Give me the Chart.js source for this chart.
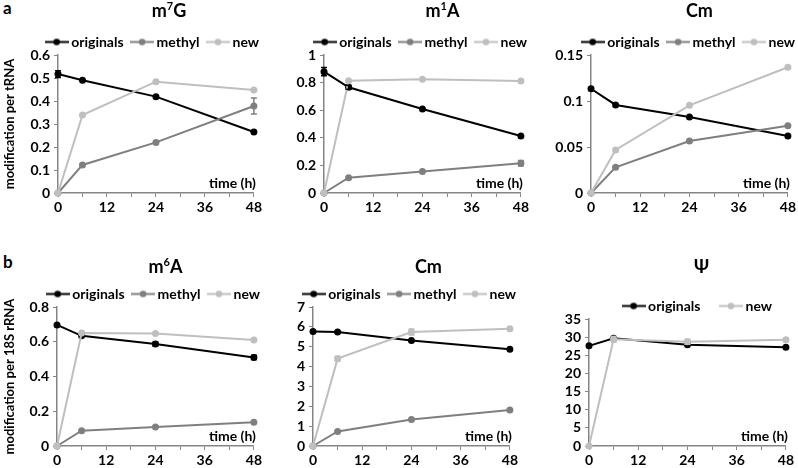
<!DOCTYPE html>
<html>
<head>
<meta charset="utf-8">
<script src="https://cdn.jsdelivr.net/npm/chart.js@4.4.0/dist/chart.umd.min.js"></script>
<style>
  body { margin: 0; background: #fff; }
  #wrap { position: relative; width: 798px; height: 468px; overflow: hidden; }
  canvas { position: absolute; }
  .tag { position: absolute; font: bold 17px Lato, sans-serif; line-height: 1; }
</style>
</head>
<body>
<div id="wrap">
  <div class="tag" style="left:3px;top:-1px">a</div>
  <div class="tag" style="left:3px;top:253px">b</div>
  <canvas id="c0"></canvas>
  <canvas id="c1"></canvas>
  <canvas id="c2"></canvas>
  <canvas id="c3"></canvas>
  <canvas id="c4"></canvas>
  <canvas id="c5"></canvas>
</div>
<script>
// time points (h) and axis ticks
const times = [0, 6, 24, 48];
const xTicks = [0, 12, 24, 36, 48];
const xTickMarks = [0, 6, 12, 18, 24, 30, 36, 42, 48];

// a: per tRNA
const m7gOriginals = [0.517, 0.490, 0.419, 0.265];
const m7gMethyl = [0, 0.122, 0.220, 0.378];
const m7gNew = [0, 0.339, 0.484, 0.448];
const m7gOriginalsErr = [0.015, 0, 0, 0];
const m7gMethylErr = [0, 0, 0, 0.035];
const m7gTicks = [0, 0.1, 0.2, 0.3, 0.4, 0.5, 0.6];

const m1aOriginals = [0.879, 0.766, 0.609, 0.413];
const m1aMethyl = [0, 0.111, 0.155, 0.215];
const m1aNew = [0, 0.814, 0.824, 0.812];
const m1aOriginalsErr = [0.03, 0.015, 0, 0];
const m1aMethylErr = [0, 0, 0, 0.02];
const m1aTicks = [0, 0.2, 0.4, 0.6, 0.8, 1];

const cmTOriginals = [0.1133, 0.0957, 0.0827, 0.0619];
const cmTMethyl = [0, 0.028, 0.0565, 0.073];
const cmTNew = [0, 0.0468, 0.0953, 0.1367];
const cmTTicks = [0, 0.05, 0.1, 0.15];

// b: per 18S rRNA
const m6aOriginals = [0.697, 0.634, 0.587, 0.510];
const m6aMethyl = [0, 0.088, 0.109, 0.137];
const m6aNew = [0, 0.650, 0.648, 0.610];
const m6aOriginalsErr = [0, 0, 0.012, 0.012];
const m6aTicks = [0, 0.2, 0.4, 0.6, 0.8];

const cmROriginals = [5.77, 5.74, 5.31, 4.87];
const cmRMethyl = [0, 0.73, 1.33, 1.81];
const cmRNew = [0, 4.40, 5.74, 5.91];
const cmRNewErr = [0, 0.12, 0.15, 0];
const cmRTicks = [0, 1, 2, 3, 4, 5, 6, 7];

const psiOriginals = [27.6, 29.7, 27.9, 27.2];
const psiNew = [0, 29.4, 28.75, 29.3];
const psiNewErr = [0, 0.8, 0.7, 0];
const psiTicks = [0, 5, 10, 15, 20, 25, 30, 35];

const colorOf = { originals: '#000000', methyl: '#7f7f7f', new: '#bfbfbf' };
const axisColor = '#858585';
const FONT = 'Lato, "Open Sans", sans-serif';

const panels = [
  { el: 'c0', left: 0, top: 0, w: 264, h: 215, yw: 58, pt: 20, titleY: 17, titleDx: 13,
    title: ['m', '7', 'G'], yTitle: 'modification per tRNA', yTicks: m7gTicks, pad: 11, nx: 14,
    series: [['originals', m7gOriginals, m7gOriginalsErr], ['methyl', m7gMethyl, m7gMethylErr], ['new', m7gNew, null]] },
  { el: 'c1', left: 276, top: 0, w: 255, h: 215, yw: 48, pt: 20, titleY: 17, titleDx: 20,
    title: ['m', '1', 'A'], yTitle: '', yTicks: m1aTicks, pad: 11, nx: 15,
    series: [['originals', m1aOriginals, m1aOriginalsErr], ['methyl', m1aMethyl, m1aMethylErr], ['new', m1aNew, null]] },
  { el: 'c2', left: 538, top: 0, w: 260, h: 215, yw: 53, pt: 20, titleY: 17, titleDx: 10,
    title: ['Cm', '', ''], yTitle: '', yTicks: cmTTicks, pad: 11, nx: 16,
    series: [['originals', cmTOriginals, null], ['methyl', cmTMethyl, null], ['new', cmTNew, null]] },
  { el: 'c3', left: 0, top: 240, w: 264, h: 228, yw: 57, pt: 32, titleY: 33, titleDx: 10,
    title: ['m', '6', 'A'], yTitle: 'modification per 18S rRNA', yTicks: m6aTicks, pad: 11, nx: 15,
    series: [['originals', m6aOriginals, m6aOriginalsErr], ['methyl', m6aMethyl, null], ['new', m6aNew, null]] },
  { el: 'c4', left: 270, top: 240, w: 250, h: 228, yw: 43, pt: 32, titleY: 33, titleDx: 17,
    title: ['Cm', '', ''], yTitle: '', yTicks: cmRTicks, pad: 11, nx: 15,
    series: [['originals', cmROriginals, null], ['methyl', cmRMethyl, null], ['new', cmRNew, cmRNewErr]] },
  { el: 'c5', left: 530, top: 240, w: 266, h: 228, yw: 59, pt: 32, titleY: 33, titleDx: 14,
    title: ['\u03A8', '', ''], yTitle: '', yTicks: psiTicks, pad: 23, nx: 7,
    series: [['originals', psiOriginals, null], ['new', psiNew, psiNewErr]] }
];

function legendIcon(color) {
  const c = document.createElement('canvas');
  c.width = 24; c.height = 9;
  const g = c.getContext('2d');
  g.strokeStyle = color; g.lineWidth = 2;
  g.beginPath(); g.moveTo(0, 4.5); g.lineTo(24, 4.5); g.stroke();
  g.fillStyle = color;
  g.beginPath(); g.arc(12, 4.5, 3.3, 0, Math.PI * 2); g.fill();
  return c;
}

// shift the legend after layout so it sits where the figure has it
const nudgeLegend = {
  id: 'nudgeLegend',
  afterLayout(chart, args, o) {
    const lg = chart.legend;
    lg.left += o.x; lg.right += o.x;
    lg.top += o.y; lg.bottom += o.y;
  }
};

// panel title (with superscript), "time (h)" label
const panelText = {
  id: 'panelText',
  afterDraw(chart, args, o) {
    const { ctx, chartArea: a } = chart;
    const [pre, sup, post] = o.title;
    ctx.save();
    ctx.fillStyle = '#000';
    ctx.textBaseline = 'alphabetic';
    ctx.textAlign = 'left';
    const big = 'bold 18px ' + FONT, small = 'bold 11px ' + FONT;
    ctx.font = big;
    const w1 = ctx.measureText(pre).width, w3 = ctx.measureText(post).width;
    ctx.font = small;
    const w2 = ctx.measureText(sup).width;
    let x = (a.left + a.right) / 2 + o.dx - (w1 + w2 + w3) / 2;
    ctx.font = big; ctx.fillText(pre, x, o.y); x += w1;
    ctx.font = small; ctx.fillText(sup, x, o.y - 7); x += w2;
    ctx.font = big; ctx.fillText(post, x, o.y);
    ctx.font = 'bold 14px ' + FONT;
    ctx.textAlign = 'right';
    ctx.fillText('time (h)', a.right + 2, a.bottom - 5);
    ctx.restore();
  }
};

const errorBars = {
  id: 'errorBars',
  afterDatasetsDraw(chart) {
    const { ctx } = chart;
    const ys = chart.scales.y;
    chart.data.datasets.forEach((ds, i) => {
      if (!ds.errors) return;
      const meta = chart.getDatasetMeta(i);
      ds.errors.forEach((e, j) => {
        if (!e) return;
        const x = meta.data[j].x;
        const y1 = ys.getPixelForValue(ds.data[j].y + e);
        const y2 = ys.getPixelForValue(ds.data[j].y - e);
        ctx.save();
        ctx.strokeStyle = ds.borderColor; ctx.lineWidth = 1.5;
        ctx.beginPath();
        ctx.moveTo(x, y1); ctx.lineTo(x, y2);
        ctx.moveTo(x - 3, y1); ctx.lineTo(x + 3, y1);
        ctx.moveTo(x - 3, y2); ctx.lineTo(x + 3, y2);
        ctx.stroke();
        ctx.restore();
      });
    });
  }
};

panels.forEach(p => {
  const cv = document.getElementById(p.el);
  cv.width = p.w; cv.height = p.h;
  cv.style.left = p.left + 'px'; cv.style.top = p.top + 'px';
  const n = p.series.length;
  const datasets = p.series.map(([name, vals, errs], k) => ({
    label: name,
    data: vals.map((v, j) => ({ x: times[j], y: v })),
    errors: errs,
    borderColor: colorOf[name],
    backgroundColor: colorOf[name],
    pointBackgroundColor: colorOf[name],
    pointBorderColor: colorOf[name],
    borderWidth: 2,
    pointRadius: 3.5,
    pointBorderWidth: 0,
    tension: 0,
    clip: false,
    order: n - 1 - k
  }));
  const last = p.yTicks[p.yTicks.length - 1];
  new Chart(cv, {
    type: 'line',
    data: { datasets },
    options: {
      responsive: false,
      animation: false,
      layout: { padding: { left: 0, right: 8, top: p.pt, bottom: 0 } },
      scales: {
        x: {
          type: 'linear', min: 0, max: 48,
          afterBuildTicks: s => { s.ticks = xTickMarks.map(v => ({ value: v })); },
          afterFit: s => { s.height = 22; },
          grid: { drawOnChartArea: false, drawTicks: true, tickLength: 4, color: axisColor, lineWidth: 1 },
          border: { color: axisColor, width: 1.5 },
          ticks: {
            autoSkip: false, maxRotation: 0, padding: 2, color: '#000',
            font: { family: FONT, weight: 'bold', size: 14 },
            callback: v => xTicks.includes(v) ? String(v) : ''
          }
        },
        y: {
          min: 0, max: last,
          afterBuildTicks: s => { s.ticks = p.yTicks.map(v => ({ value: v })); },
          afterFit: s => { s.width = p.yw; },
          grid: { drawOnChartArea: false, drawTicks: true, tickLength: 4, color: axisColor, lineWidth: 1 },
          border: { color: axisColor, width: 1.5 },
          ticks: {
            autoSkip: false, padding: 4, color: '#000',
            font: { family: FONT, weight: 'bold', size: 14 },
            callback: v => String(+v.toFixed(4))
          },
          title: {
            display: !!p.yTitle, text: p.yTitle, color: '#000',
            font: { family: FONT, weight: 'bold', size: 13 },
            padding: { top: 2, bottom: 0 }
          }
        }
      },
      plugins: {
        tooltip: { enabled: false },
        legend: {
          position: 'top', align: 'end',
          labels: {
            usePointStyle: true, pointStyleWidth: 15, padding: p.pad, color: '#000',
            font: { family: FONT, weight: 'bold', size: 14 },
            generateLabels: chart => chart.data.datasets.map((ds, i) => ({
              text: ds.label, datasetIndex: i, hidden: false, lineWidth: 0,
              fillStyle: ds.borderColor, strokeStyle: ds.borderColor, fontColor: '#000',
              pointStyle: legendIcon(ds.borderColor)
            }))
          }
        },
        nudgeLegend: { x: p.nx, y: 4 },
        panelText: { title: p.title, dx: p.titleDx, y: p.titleY }
      }
    },
    plugins: [nudgeLegend, panelText, errorBars]
  });
});
</script>
</body>
</html>
